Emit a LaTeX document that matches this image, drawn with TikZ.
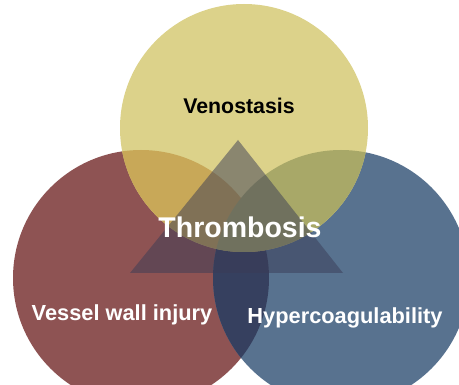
\documentclass[tikz,border=0pt]{standalone}
\usepackage{fontspec}
\setmainfont{Liberation Sans}
\definecolor{venoyellow}{HTML}{DCD28A}
\definecolor{wallred}{HTML}{8E5353}
\definecolor{coagblue}{HTML}{58728F}
\definecolor{goldmix}{HTML}{C8A858}
\definecolor{olivemix}{HTML}{A8A868}
\definecolor{navymix}{HTML}{36405F}
\definecolor{trigrey}{HTML}{3A3C56}
\begin{document}
\begin{tikzpicture}[x=1pt,y=-1pt,
    lbl/.style={font=\bfseries\fontsize{21.8}{22}\selectfont, text=white}]
        \useasboundingbox (0,0) rectangle (459,385);
        \coordinate (venoc) at (244,128);
        \coordinate (wallc) at (141,278);
        \coordinate (coagc) at (341,278);
        % circles
        \fill[wallred] (wallc) circle (128);
        \fill[coagblue] (coagc) circle (128);
        \begin{scope}
            \clip (wallc) circle (128);
            \fill[navymix] (coagc) circle (128);
        \end{scope}
        \fill[venoyellow] (venoc) circle (124);
        \begin{scope}
            \clip (venoc) circle (124);
            \fill[goldmix] (wallc) circle (128);
            \fill[olivemix] (coagc) circle (128);
        \end{scope}
        % triangle
        \coordinate (top) at (238,140);
        \coordinate (bl) at (130,273);
        \coordinate (br) at (343,273);
        \fill[trigrey, opacity=0.5] (top) -- (bl) -- (br) -- cycle;
        % labels
        \node[font=\bfseries\fontsize{21.3}{22}\selectfont] (veno) at (239,106) {Venostasis};
        \node[lbl, font=\bfseries\fontsize{28.5}{29}\selectfont] (thrombo) at (240,227) {Thrombosis};
        \node[lbl] (wall) at (122,315) {Vessel wall injury};
        \node[lbl] (coag) at (345,318) {Hypercoagulability};
    \end{tikzpicture}
\end{document}
